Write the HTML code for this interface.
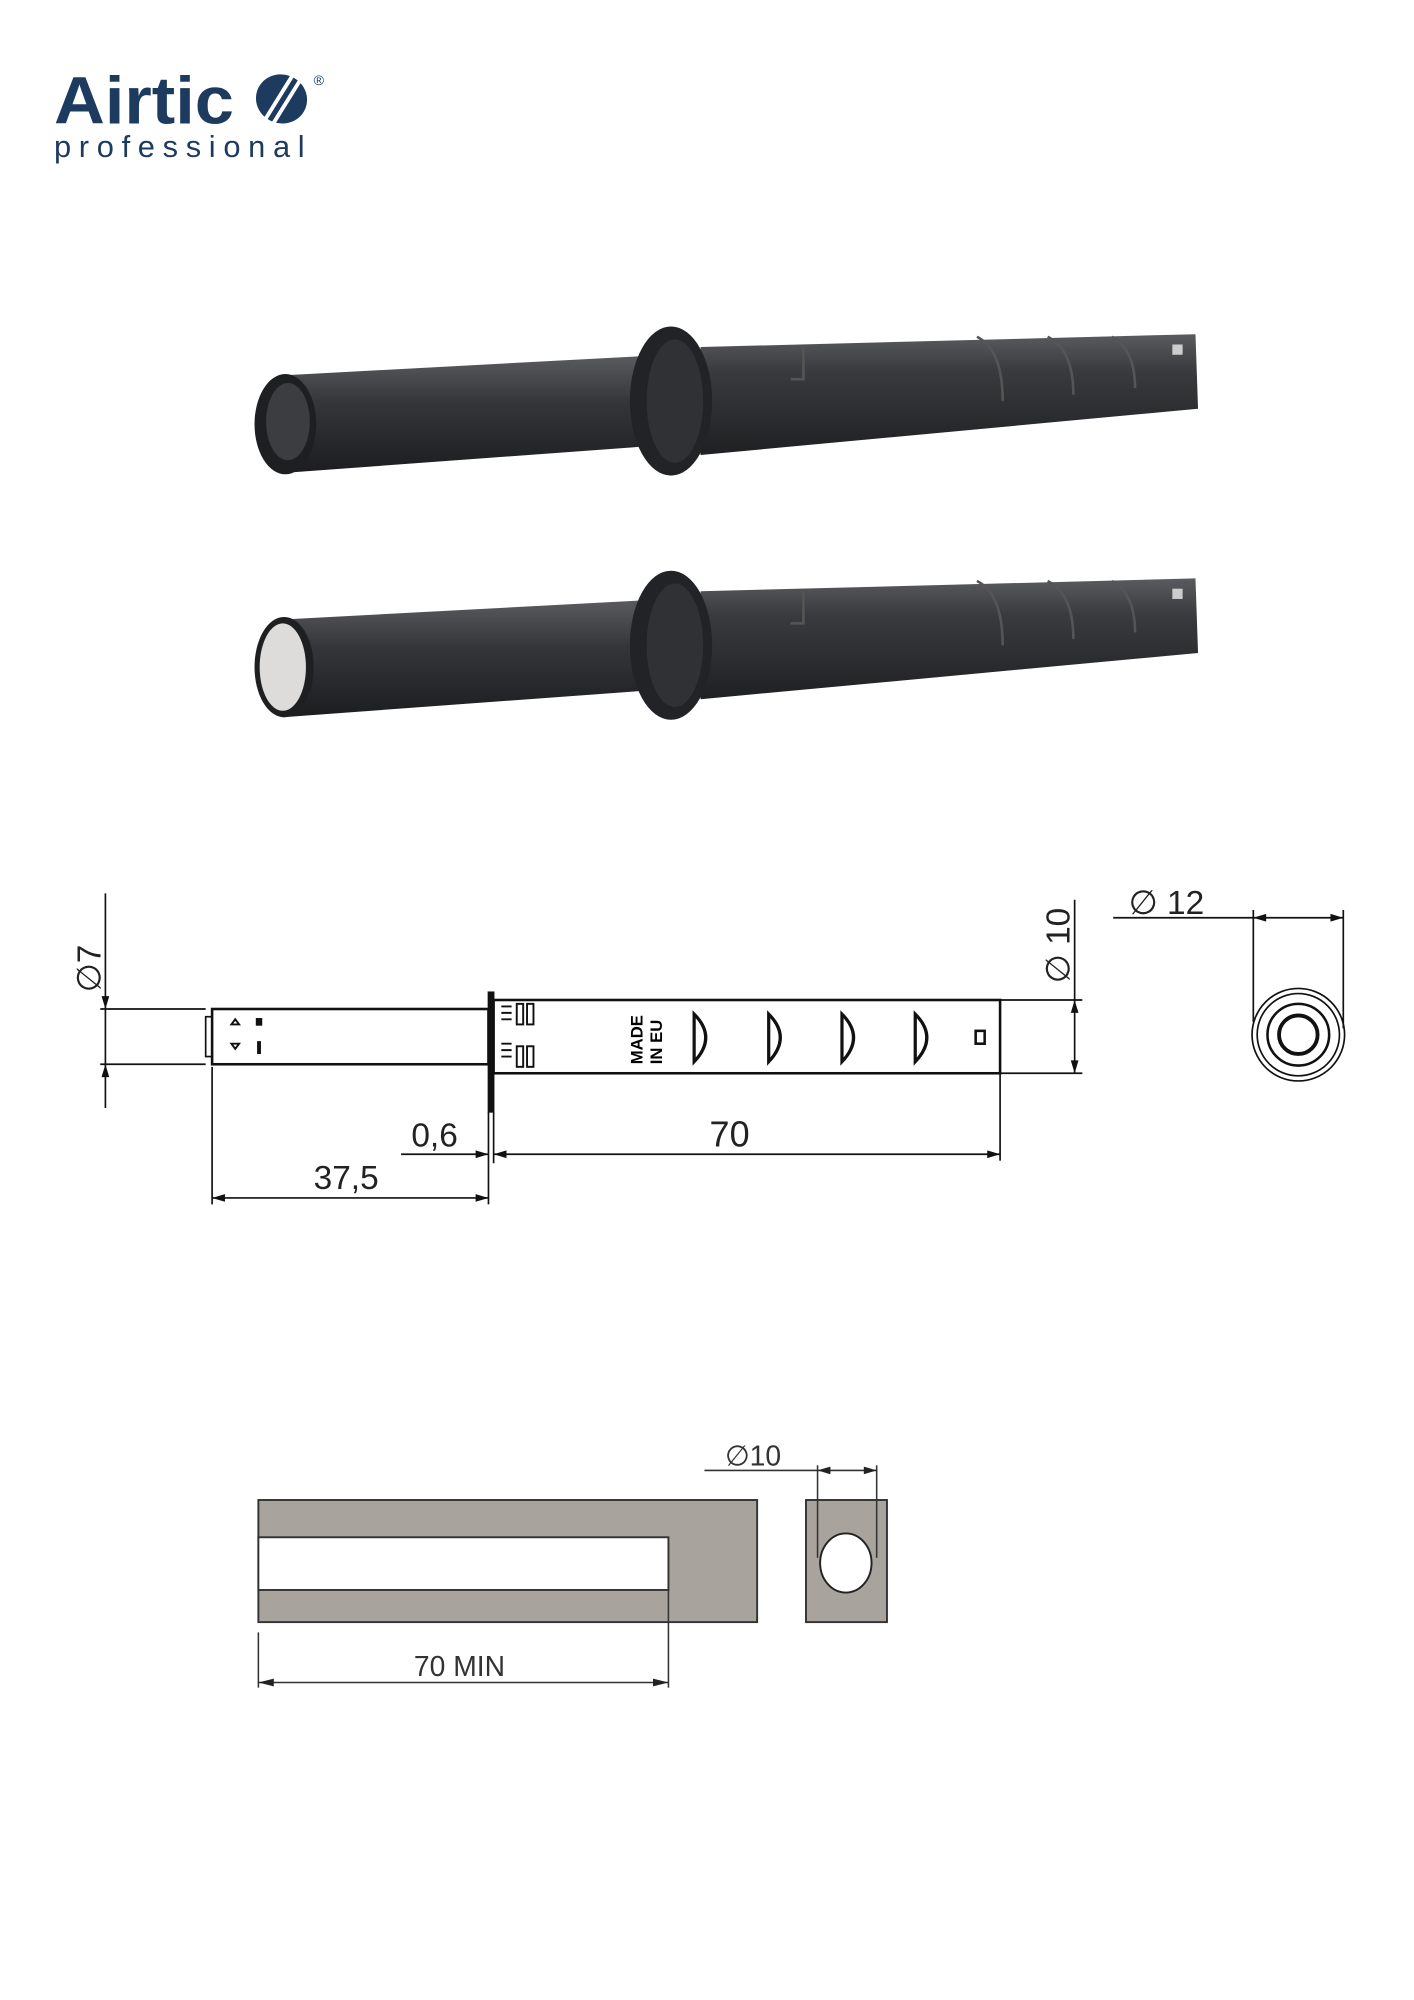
<!DOCTYPE html>
<html><head><meta charset="utf-8"><style>html,body{margin:0;padding:0;background:#fff}svg{display:block}</style></head>
<body>
<svg width="1414" height="2000" viewBox="0 0 1100 1556" preserveAspectRatio="none" xmlns="http://www.w3.org/2000/svg" font-family="Liberation Sans, sans-serif">
<defs>
<linearGradient id="g" x1="0" y1="0" x2="0" y2="1">
<stop offset="0" stop-color="#5a5b5e"/><stop offset="0.3" stop-color="#3a3b3e"/><stop offset="1" stop-color="#1f2022"/></linearGradient>
<linearGradient id="gs" x1="0" y1="0" x2="0" y2="1">
<stop offset="0" stop-color="#5b5c5f"/><stop offset="0.4" stop-color="#35363a"/><stop offset="1" stop-color="#1c1d1f"/></linearGradient>
</defs>
<!-- logo -->
<text x="42" y="96" font-size="52" font-weight="bold" fill="#1d3a5f" textLength="140" lengthAdjust="spacingAndGlyphs">Airtic</text>
<ellipse cx="219" cy="77" rx="20" ry="19" fill="#1d3a5f" transform="rotate(20 219 77)"/>
<line x1="205" y1="95" x2="228" y2="58" stroke="#fff" stroke-width="3"/>
<line x1="212" y1="97" x2="235" y2="60" stroke="#fff" stroke-width="3"/>
<text x="244" y="66" font-size="11" fill="#1d3a5f">®</text>
<text x="42" y="122" font-size="24" fill="#1d3a5f" textLength="195" lengthAdjust="spacing">professional</text>

<!-- pusher 1 -->
<g id="p1">
<polygon points="220,292 520,276 520,346 220,368" fill="url(#gs)"/>
<polygon points="545,270 930,260 932,318 545,354" fill="url(#g)"/>
<ellipse cx="522" cy="312" rx="32" ry="58" fill="#222326"/>
<ellipse cx="525" cy="312" rx="22" ry="48" fill="#303134"/>
<ellipse cx="222" cy="330" rx="24" ry="39" fill="#1e1f21"/>
<ellipse cx="224" cy="328" rx="17" ry="30" fill="#3c3d40"/>
<rect x="912" y="268" width="8" height="8" fill="#ccc"/>
<g stroke="#555" stroke-width="2" fill="none">
<path d="M760 262 q20 10 20 50"/><path d="M815 262 q20 10 20 45"/><path d="M865 262 q18 10 18 40"/>
<path d="M625 270 v25 h-10"/>
</g>
</g>
<polygon points="220,482 520,466 520,536 220,558" fill="url(#gs)"/>
<polygon points="545,460 930,450 932,508 545,544" fill="url(#g)"/>
<ellipse cx="522" cy="502" rx="32" ry="58" fill="#222326"/>
<ellipse cx="525" cy="502" rx="22" ry="48" fill="#303134"/>
<ellipse cx="221" cy="519" rx="23" ry="39" fill="#1e1f21"/>
<ellipse cx="220" cy="519" rx="18" ry="34" fill="#dedcda"/>
<rect x="912" y="458" width="8" height="8" fill="#ccc"/>
<g stroke="#555" stroke-width="2" fill="none">
<path d="M760 452 q20 10 20 50"/><path d="M815 452 q20 10 20 45"/><path d="M865 452 q18 10 18 40"/>
<path d="M625 460 v25 h-10"/>
</g>

<!-- technical drawing -->
<g stroke="#111" fill="none" stroke-width="1.3">
<line x1="82" y1="695" x2="82" y2="862"/>
<line x1="78" y1="785" x2="160" y2="785"/><line x1="78" y1="828" x2="160" y2="828"/>
<rect x="165" y="785" width="215" height="43" stroke-width="2"/>
<rect x="160" y="791" width="5" height="31"/>
<rect x="380" y="772" width="4" height="93" fill="#111"/>
<rect x="384" y="778" width="394" height="57" stroke-width="2"/>
<line x1="778" y1="778" x2="842" y2="778"/><line x1="778" y1="835" x2="842" y2="835"/>
<line x1="836" y1="700" x2="836" y2="835"/>
<line x1="866" y1="714" x2="1045" y2="714"/>
<line x1="975" y1="708" x2="975" y2="795"/><line x1="1045" y1="708" x2="1045" y2="800"/>
<circle cx="1010" cy="805" r="36"/><circle cx="1010" cy="805" r="32"/><circle cx="1010" cy="805" r="24" stroke-width="2"/><circle cx="1010" cy="805" r="15" stroke-width="3"/>
<line x1="778" y1="835" x2="778" y2="903"/><line x1="384" y1="865" x2="384" y2="905"/>
<line x1="312" y1="898" x2="380" y2="898"/><line x1="384" y1="898" x2="778" y2="898"/>
<line x1="165" y1="830" x2="165" y2="937"/><line x1="380" y1="865" x2="380" y2="937"/>
<line x1="165" y1="932" x2="380" y2="932"/>
<g stroke-width="1.5">
<path d="M390 783h8M390 788h8M390 793h8M390 812h8M390 817h8M390 822h8"/>
<rect x="402" y="781" width="5" height="16"/><rect x="410" y="781" width="5" height="16"/>
<rect x="402" y="814" width="5" height="16"/><rect x="410" y="814" width="5" height="16"/>
<path d="M540 789 q18 18 0 37 z M598 789 q18 18 0 37 z M655 789 q18 18 0 37 z M712 789 q18 18 0 37 z" stroke-width="2.5"/>
<rect x="759" y="802" width="7" height="10" stroke-width="2"/>
<path d="M180 797l3 -4 3 4z M180 812l3 4 3 -4z"/>
</g>
</g>
<g fill="#111">
<path d="M82 785l-3 -10h6z M82 828l-3 10h6z M836 778l-3 10h6z M836 835l-3 -10h6z"/>
<path d="M975 714l10 -3v6z M1045 714l-10 -3v6z"/>
<path d="M380 898l-10 -3v6z M384 898l10 -3v6z M778 898l-10 -3v6z"/>
<path d="M165 932l10 -3v6z M380 932l-10 -3v6z"/>
<rect x="199" y="792" width="5" height="6"/><rect x="200" y="810" width="3" height="10"/>
</g>
<text font-size="13" font-weight="bold" transform="translate(500 828) rotate(-90)">MADE</text>
<text font-size="13" font-weight="bold" transform="translate(515 828) rotate(-90)">IN EU</text>
<text font-size="26" fill="#222" transform="translate(78 772) rotate(-90)">∅7</text>
<text font-size="26" fill="#222" transform="translate(832 765) rotate(-90)">∅ 10</text>
<text x="878" y="711" font-size="26" fill="#222">∅ 12</text>
<text x="320" y="892" font-size="26" fill="#222">0,6</text>
<text x="552" y="892" font-size="28" fill="#222">70</text>
<text x="244" y="925" font-size="26" fill="#222">37,5</text>

<!-- bottom drawing -->
<rect x="201" y="1167" width="388" height="95" fill="#a8a39d" stroke="#333" stroke-width="1.5"/>
<rect x="201" y="1196" width="319" height="41" fill="#fff" stroke="#333" stroke-width="1.5"/>
<rect x="627" y="1167" width="63" height="95" fill="#a8a39d" stroke="#333" stroke-width="1.5"/>
<ellipse cx="658" cy="1216" rx="20" ry="23" fill="#fff" stroke="#222" stroke-width="1.5"/>
<g stroke="#333" stroke-width="1.2">
<line x1="548" y1="1144" x2="682" y2="1144"/>
<line x1="636" y1="1140" x2="636" y2="1212"/><line x1="682" y1="1140" x2="682" y2="1212"/>
<line x1="201" y1="1270" x2="201" y2="1313"/><line x1="520" y1="1237" x2="520" y2="1313"/>
<line x1="201" y1="1309" x2="520" y2="1309"/>
</g>
<g fill="#222"><path d="M636 1144l10 -3v6z M682 1144l-10 -3v6z M201 1309l12 -3v6z M520 1309l-12 -3v6z"/></g>
<text x="564" y="1140" font-size="22" fill="#333">∅10</text>
<text x="322" y="1304" font-size="22" fill="#333">70 MIN</text>
</svg>
</body></html>
